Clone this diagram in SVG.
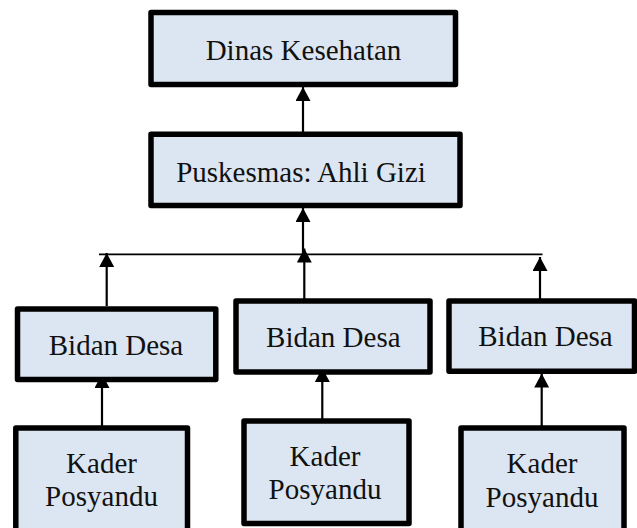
<svg xmlns="http://www.w3.org/2000/svg" width="637" height="528" viewBox="0 0 637 528">
<style>
.box{fill:#DCE6F2;stroke:#000;stroke-width:5.5;stroke-linejoin:round}
.lbl{font-family:"Liberation Serif","Times New Roman",serif;font-size:29px;fill:#111;text-anchor:middle}
.con{stroke:#000;stroke-width:2.2;fill:none}
.hub{stroke:#000;stroke-width:1.8;fill:none}
</style>
<defs>
<marker id="ah" markerUnits="userSpaceOnUse" viewBox="0 0 14 15" refX="14" refY="7.5" markerWidth="14" markerHeight="15" orient="auto">
<path d="M0,0 L14,7.5 L0,15 z" fill="#000"/>
</marker>
</defs>
<rect width="637" height="528" fill="#fff"/>
<g id="connectors">
<line class="con" x1="303" y1="132" x2="303" y2="87" marker-end="url(#ah)"/>
<line class="con" x1="303" y1="254" x2="303" y2="208" marker-end="url(#ah)"/>
<line class="hub" x1="99" y1="254.3" x2="542.5" y2="254.3"/>
<line class="con" x1="106.7" y1="306" x2="106.7" y2="253" marker-end="url(#ah)"/>
<line class="con" x1="304.3" y1="299" x2="304.3" y2="248.5" marker-end="url(#ah)"/>
<line class="con" x1="540" y1="299" x2="540" y2="257" marker-end="url(#ah)"/>
<line class="con" x1="102" y1="426" x2="102" y2="374" marker-end="url(#ah)"/>
<line class="con" x1="322.3" y1="419" x2="322.3" y2="368" marker-end="url(#ah)"/>
<line class="con" x1="541.7" y1="426" x2="541.7" y2="373.5" marker-end="url(#ah)"/>
</g>
<g id="dinas">
<rect class="box" x="151" y="12.5" width="304.5" height="72"/>
<text class="lbl" x="303.5" y="59.5">Dinas Kesehatan</text>
</g>
<g id="puskesmas">
<rect class="box" x="151" y="134.2" width="309" height="71.3"/>
<text class="lbl" x="301" y="181.7">Puskesmas: Ahli Gizi</text>
</g>
<g id="bidan1">
<rect class="box" x="17.5" y="309" width="198.3" height="70.5"/>
<text class="lbl" x="116" y="355">Bidan Desa</text>
</g>
<g id="bidan2">
<rect class="box" x="236" y="301" width="194" height="71"/>
<text class="lbl" x="333.3" y="346.7">Bidan Desa</text>
</g>
<g id="bidan3">
<rect class="box" x="449" y="301" width="185.5" height="70.3"/>
<text class="lbl" x="545.5" y="346">Bidan Desa</text>
</g>
<g id="kader1">
<rect class="box" x="15.8" y="428" width="171.7" height="110"/>
<text class="lbl" x="101.5" y="473">Kader</text>
<text class="lbl" x="101.5" y="506">Posyandu</text>
</g>
<g id="kader2">
<rect class="box" x="244" y="421" width="165" height="102.5"/>
<text class="lbl" x="325" y="465.5">Kader</text>
<text class="lbl" x="325" y="499">Posyandu</text>
</g>
<g id="kader3">
<rect class="box" x="461" y="428" width="163" height="110"/>
<text class="lbl" x="542" y="473.3">Kader</text>
<text class="lbl" x="542" y="506.5">Posyandu</text>
</g>
</svg>
